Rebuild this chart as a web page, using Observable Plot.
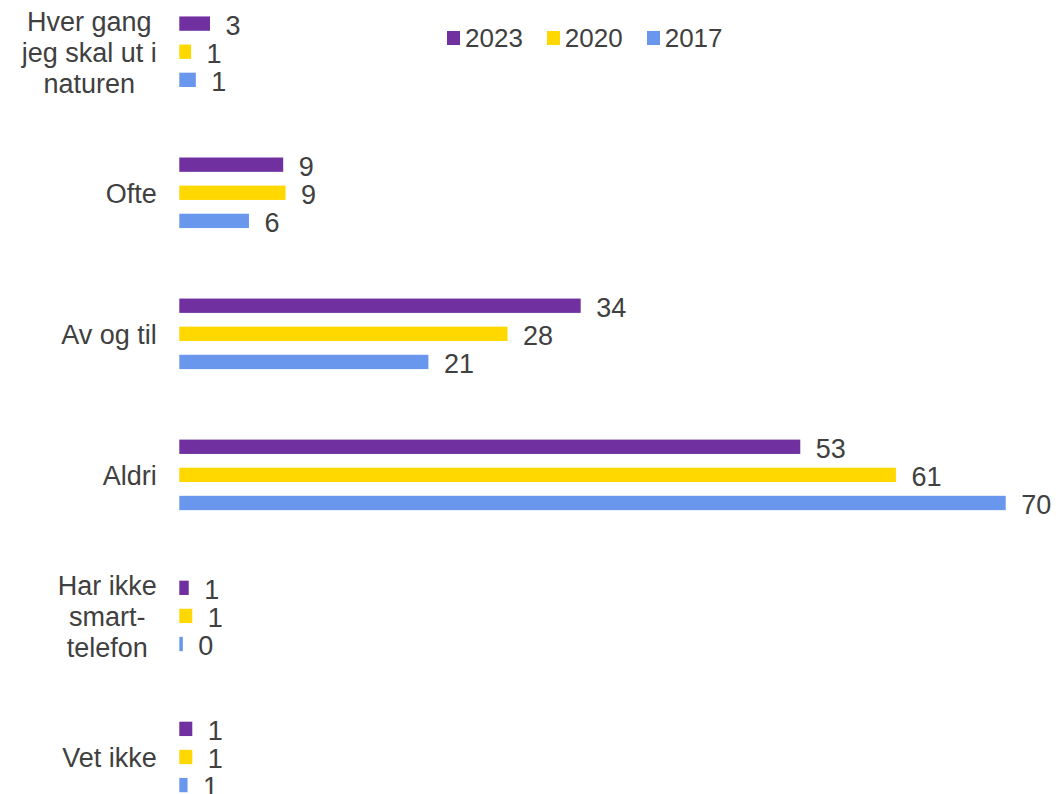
<!DOCTYPE html>
<html><head><meta charset="utf-8">
<script src="https://cdn.jsdelivr.net/npm/d3@7"></script>
<script src="https://cdn.jsdelivr.net/npm/@observablehq/plot@0.6"></script>
<style>
body{margin:0;background:#fff;font-family:"Liberation Sans",Arial,sans-serif;}
#wrap{position:relative;width:1056px;height:794px;overflow:hidden;}
#legend{position:absolute;left:447px;top:23px;display:flex;align-items:center;font-size:26px;line-height:30px;color:#404040;}
#legend .item{display:flex;align-items:center;margin-right:24px;}
#legend .sw{width:13px;height:14px;margin-right:5px;}
</style></head><body>
<div id="wrap"><div id="chart"></div><div id="legend"></div></div>
<script>
const categories = ["Hver gang\njeg skal ut i\nnaturen", "Ofte", "Av og til", "Aldri", "Har ikke\nsmart-\ntelefon", "Vet ikke"];
const years = ["2023", "2020", "2017"];
const values2023 = [2.6, 8.8, 34.0, 52.6, 0.8, 1.1];
const values2020 = [1.0, 9.0, 27.8, 60.7, 1.1, 1.1];
const values2017 = [1.4, 5.9, 21.1, 70.0, 0.3, 0.7];
const colors = ["#7030A0", "#FFD800", "#6A97EE"];

const series = [values2023, values2020, values2017];
const data = [];
categories.forEach((c, i) => years.forEach((y, j) => data.push({category: c, year: y, value: series[j][i]})));

const FONT = 27;
const ctx = document.createElement("canvas").getContext("2d");
ctx.font = `${FONT}px "Liberation Sans"`;
const maxLineWidth = s => Math.max(...s.split("\n").map(l => ctx.measureText(l).width));

const labelMarks = categories.map(c => Plot.text([c], {
  fy: d => d, text: d => d, frameAnchor: "left", textAnchor: "middle",
  dx: -(23 + maxLineWidth(c) / 2), lineHeight: 1.15, fontSize: FONT, fill: "#404040"
}));

const chart = Plot.plot({
  width: 1056, height: 794,
  marginTop: 0, marginBottom: 0, marginLeft: 179.3, marginRight: 50.3,
  style: {fontFamily: '"Liberation Sans", Arial, sans-serif', fontSize: FONT + "px", color: "#404040", background: "#fff"},
  x: {domain: [0, 70], axis: null},
  fy: {domain: categories, range: [-18.8, 827.5], padding: 0, round: false, axis: null, label: null},
  y: {domain: years, range: [35.25, 105.8], paddingInner: 0.49, paddingOuter: 0, round: false, axis: null, label: null},
  color: {domain: years, range: colors},
  marks: [
    Plot.barX(data, {x: "value", y: "year", fy: "category", fill: "year"}),
    Plot.text(data, {x: "value", y: "year", fy: "category", text: d => d3.format(".0f")(d.value),
      textAnchor: "start", dx: 15, dy: 2, fontSize: FONT, fill: "#404040"}),
    ...labelMarks
  ]
});
document.getElementById("chart").appendChild(chart);

const legend = document.getElementById("legend");
years.forEach((y, j) => {
  const item = document.createElement("div"); item.className = "item";
  const sw = document.createElement("div"); sw.className = "sw"; sw.style.background = colors[j];
  const t = document.createElement("span"); t.textContent = y;
  item.appendChild(sw); item.appendChild(t); legend.appendChild(item);
});
</script>
</body></html>
